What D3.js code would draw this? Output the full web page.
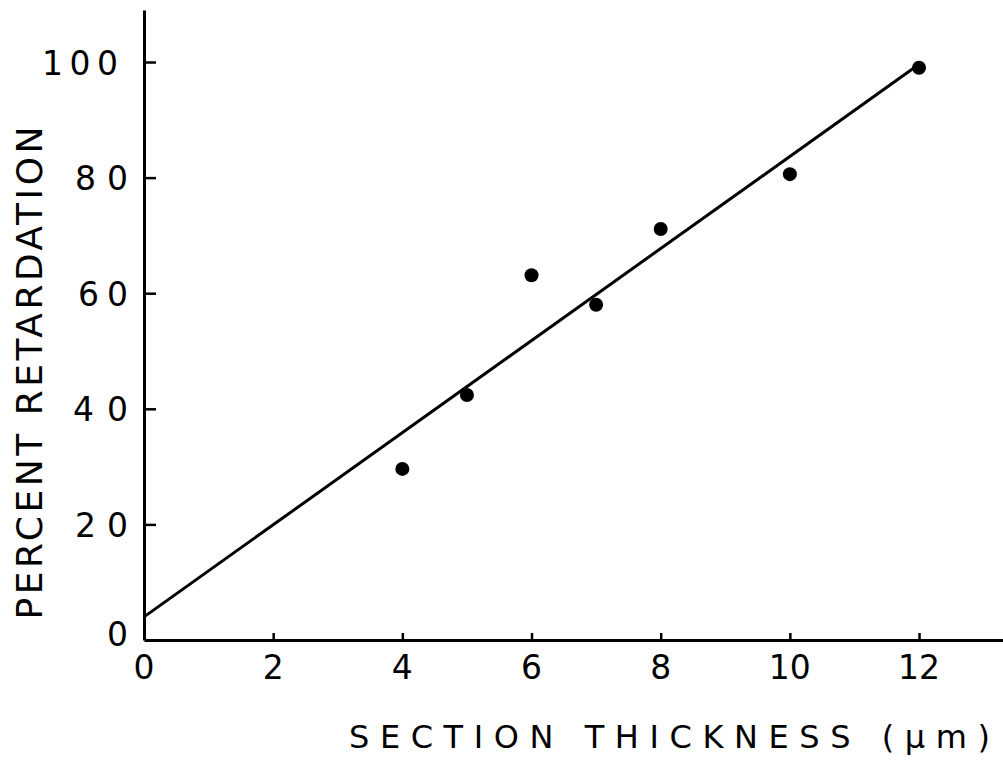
<!DOCTYPE html>
<html>
<head>
<meta charset="utf-8">
<script src="https://cdn.jsdelivr.net/npm/d3@7"></script>
<style>
  html, body { margin: 0; padding: 0; background: #fff; }
  svg { display: block; }
  text { font-family: "DejaVu Sans", sans-serif; fill: #000; }
</style>
</head>
<body>
<svg id="chart" width="1003" height="766"></svg>
<script>
// ---- data ----
const thickness = [4, 5, 6, 7, 8, 10, 12];
const retardation = [29.6, 42.4, 63.1, 58.0, 71.1, 80.6, 99.0];
const fitX = [0, 12];
const fitY = [4.0, 99.6];
const xTickValues = [0, 2, 4, 6, 8, 10, 12];
const xTickLabels = ["0", "2", "4", "6", "8", "10", "12"];
const yTickValues = [0, 20, 40, 60, 80, 100];
const yTickLabels = ["0", "20", "40", "60", "80", "100"];
const xTitle = "SECTION THICKNESS (\u03bcm)";
const yTitle = "PERCENT RETARDATION";

// ---- layout ----
const svg = d3.select("#chart");
const x = d3.scaleLinear().domain([0, 13.3]).range([144, 1003]);
const y = d3.scaleLinear().domain([0, 109]).range([640, 10]);

const ink = "#000";

// axes
const xAxis = d3.axisBottom(x).tickValues(xTickValues.filter(v => v > 0))
  .tickSize(-7).tickSizeOuter(0).tickFormat("");
const yAxis = d3.axisLeft(y).tickValues(yTickValues.filter(v => v > 0))
  .tickSize(-12).tickSizeOuter(0).tickFormat("");

const gx = svg.append("g").attr("transform", `translate(0,${y(0)})`).call(xAxis);
const gy = svg.append("g").attr("transform", `translate(${x(0)},0)`).call(yAxis);
[gx, gy].forEach(g => {
  g.select(".domain").attr("stroke", ink).attr("stroke-width", 3);
  g.selectAll(".tick line").attr("stroke", ink).attr("stroke-width", 2.5);
});

// x tick labels
svg.append("g").selectAll("text").data(xTickValues).join("text")
  .attr("x", d => x(d))
  .attr("y", 667)
  .attr("text-anchor", "middle")
  .attr("dominant-baseline", "central")
  .attr("font-size", 33)
  .text((d, i) => xTickLabels[i]);

// y tick labels
const yLabelWidths = {"0": null, "20": 53, "40": 55, "60": 50, "80": 53, "100": 76};
svg.append("g").selectAll("text").data(yTickValues).join("text")
  .attr("x", d => d === 100 ? 118 : 128)
  .attr("y", d => y(d) + (d === 0 ? -6 : 1))
  .attr("text-anchor", "end")
  .attr("dominant-baseline", "central")
  .attr("font-size", 33)
  .each(function(d, i) {
    const w = yLabelWidths[yTickLabels[i]];
    if (w) d3.select(this).attr("textLength", w).attr("lengthAdjust", "spacing");
  })
  .text((d, i) => yTickLabels[i]);

// fit line
svg.append("line")
  .attr("x1", x(fitX[0])).attr("y1", y(fitY[0]))
  .attr("x2", x(fitX[1])).attr("y2", y(fitY[1]))
  .attr("stroke", ink).attr("stroke-width", 3);

// points
svg.append("g").selectAll("circle").data(thickness).join("circle")
  .attr("cx", d => x(d))
  .attr("cy", (d, i) => y(retardation[i]))
  .attr("r", 7)
  .attr("fill", ink);

// x title
svg.append("text")
  .attr("x", 349).attr("y", 748)
  .attr("font-size", 32)
  .attr("textLength", 641).attr("lengthAdjust", "spacing")
  .text(xTitle);

// y title
svg.append("text")
  .attr("transform", "translate(42,373) rotate(-90)")
  .attr("text-anchor", "middle")
  .attr("font-size", 36)
  .attr("textLength", 493).attr("lengthAdjust", "spacing")
  .text(yTitle);
</script>
</body>
</html>
